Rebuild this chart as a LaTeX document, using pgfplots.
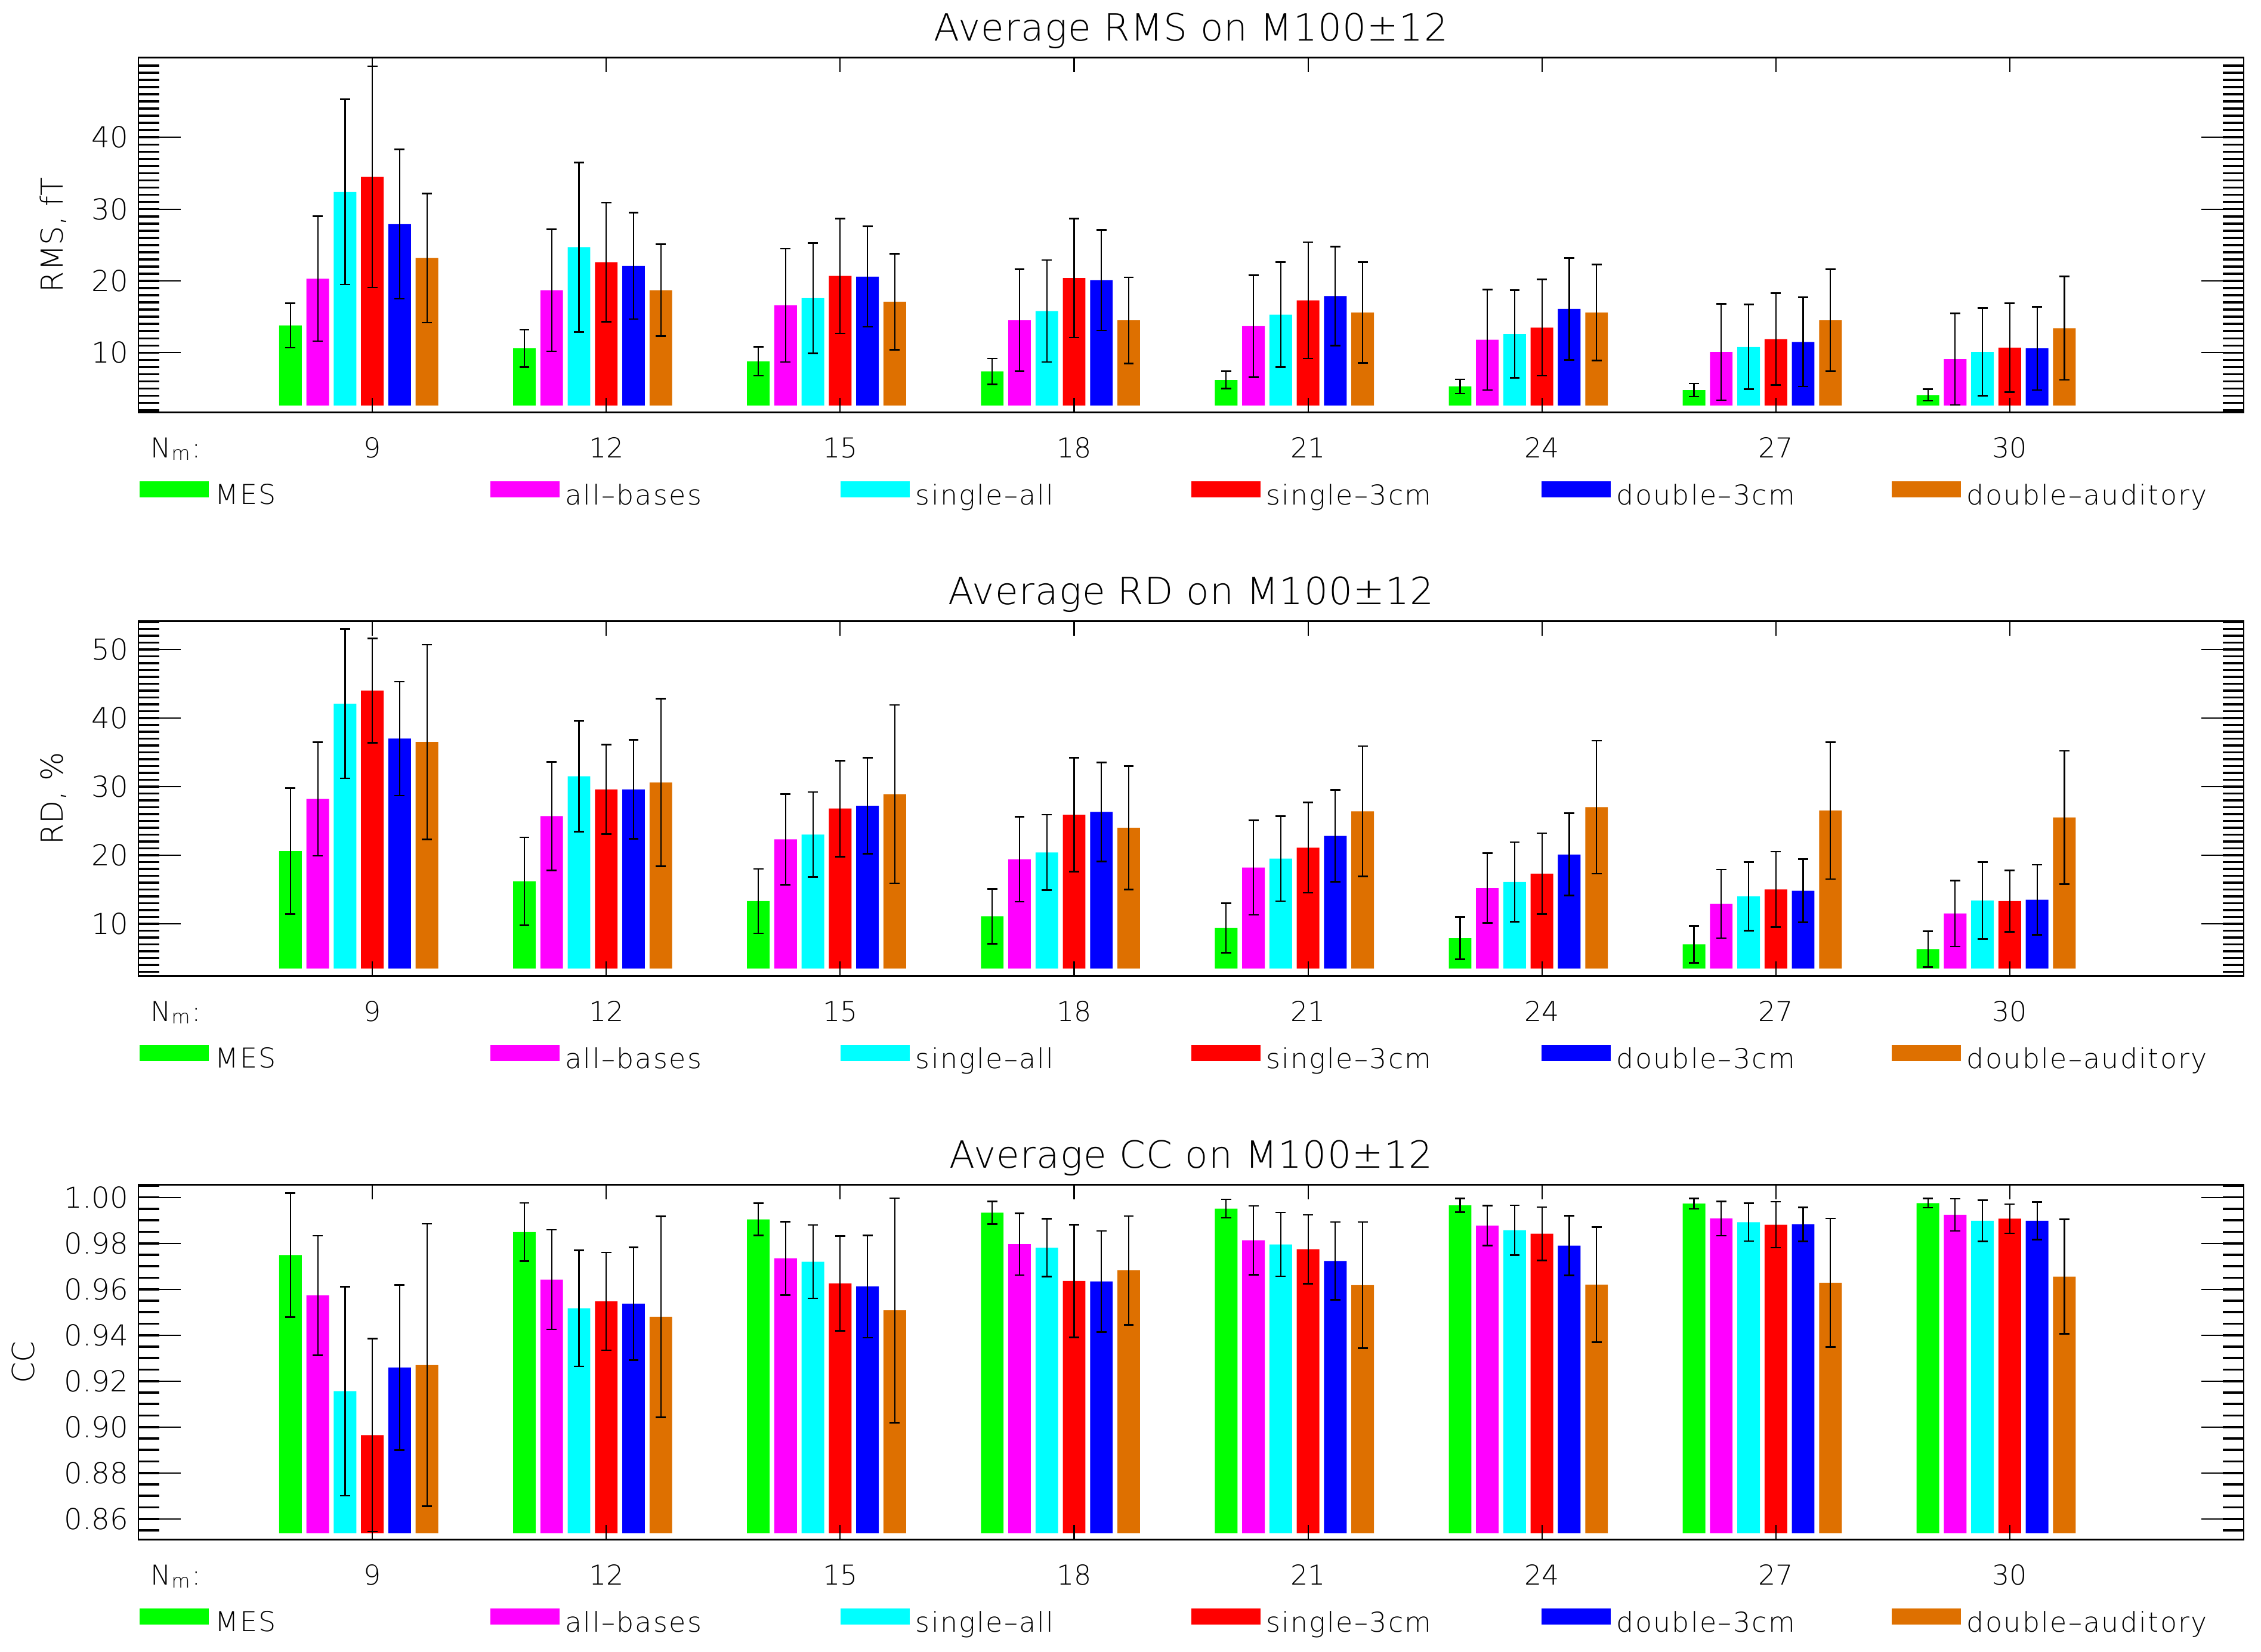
\documentclass[border=0pt]{standalone}
\usepackage{fontspec}
\IfFontExistsTF{DejaVu Sans ExtraLight}{%
  \setmainfont{DejaVu Sans ExtraLight}%
  \newfontfamily\wfont{DejaVu Sans ExtraLight}[LetterSpace=5]%
  \newfontfamily\tfont{DejaVu Sans ExtraLight}[LetterSpace=2]}{%
  \setmainfont{DejaVu Sans}%
  \newfontfamily\wfont{DejaVu Sans}[LetterSpace=5]%
  \newfontfamily\tfont{DejaVu Sans}[LetterSpace=2]}
\usepackage{pgfplots}
\usepackage{pgfplotstable}
\pgfplotsset{compat=1.18}

\definecolor{cMES}{RGB}{0,255,0}
\definecolor{cAB}{RGB}{255,0,255}
\definecolor{cSA}{RGB}{0,255,255}
\definecolor{cSt}{RGB}{255,0,0}
\definecolor{cDt}{RGB}{0,0,255}
\definecolor{cDA}{RGB}{222,112,0}

\pgfplotstableread{
x  mes mese ab  abe sa   sae  st   ste  dt   dte  da   dae
9  13.8 3.1 20.3 8.7 32.4 12.9 34.5 15.4 27.9 10.4 23.2 9.0
12 10.6 2.6 18.7 8.5 24.7 11.8 22.6 8.3  22.1 7.4  18.7 6.4
15 8.8  2.0 16.6 7.9 17.6 7.7  20.7 8.0  20.6 7.0  17.1 6.7
18 7.4  1.8 14.5 7.1 15.8 7.1  20.4 8.3  20.1 7.0  14.5 6.0
21 6.2  1.2 13.7 7.1 15.3 7.3  17.3 8.1  17.9 6.9  15.6 7.0
24 5.3  1.0 11.8 7.0 12.6 6.1  13.5 6.7  16.1 7.1  15.6 6.7
27 4.8  0.9 10.1 6.7 10.8 5.9  11.9 6.4  11.5 6.2  14.5 7.1
30 4.1  0.8 9.1  6.4 10.1 6.1  10.7 6.2  10.6 5.8  13.4 7.2
}\rmsdata

\pgfplotstableread{
x  mes mese ab  abe sa   sae  st   ste  dt   dte  da   dae
9  20.6 9.2 28.2 8.3 42.1 10.9 44.0 7.6  37.0 8.3  36.5 14.2
12 16.2 6.4 25.7 7.9 31.5 8.1  29.6 6.5  29.6 7.2  30.6 12.2
15 13.3 4.7 22.3 6.6 23.0 6.2  26.8 7.0  27.2 7.0  28.9 13.0
18 11.1 4.0 19.4 6.2 20.4 5.5  25.9 8.3  26.3 7.2  24.0 9.0
21 9.4  3.6 18.2 6.9 19.5 6.2  21.1 6.6  22.8 6.7  26.4 9.5
24 7.9  3.1 15.2 5.1 16.1 5.8  17.3 5.9  20.1 6.0  27.0 9.7
27 7.0  2.7 12.9 5.0 14.0 5.0  15.0 5.5  14.8 4.6  26.5 10.0
30 6.3  2.6 11.5 4.8 13.4 5.6  13.3 4.5  13.5 5.1  25.5 9.7
}\rddata

\pgfplotstableread{
x  mes    mese   ab     abe    sa     sae    st     ste    dt     dte    da     dae
9  0.9749 0.0270 0.9573 0.0260 0.9156 0.0455 0.8965 0.0420 0.9259 0.0360 0.9270 0.0615
12 0.9849 0.0127 0.9642 0.0217 0.9517 0.0253 0.9547 0.0213 0.9537 0.0245 0.9480 0.0437
15 0.9904 0.0070 0.9734 0.0160 0.9720 0.0160 0.9625 0.0207 0.9612 0.0223 0.9508 0.0489
18 0.9933 0.0050 0.9796 0.0134 0.9781 0.0126 0.9636 0.0245 0.9634 0.0220 0.9682 0.0237
21 0.9951 0.0040 0.9813 0.0150 0.9795 0.0139 0.9774 0.0150 0.9723 0.0170 0.9618 0.0275
24 0.9965 0.0030 0.9877 0.0087 0.9857 0.0108 0.9842 0.0116 0.9790 0.0130 0.9620 0.0250
27 0.9973 0.0023 0.9908 0.0075 0.9892 0.0082 0.9881 0.0100 0.9883 0.0074 0.9628 0.0280
30 0.9975 0.0020 0.9924 0.0070 0.9898 0.0090 0.9907 0.0064 0.9898 0.0082 0.9655 0.0250
}\ccdata

\pgfplotsset{
  bars/.style={draw=none, fill=#1,
    legend image code/.code={\fill[#1] (0pt,-0.3pt) rectangle (24pt,5.3pt);},
    error bars/y dir=both, error bars/y explicit,
    error bars/error bar style={black, line width=0.45pt},
    error bars/error mark options={rotate=90, black, line width=0.55pt, mark size=1.75pt}},
  panelA/.style={
    width=730pt, height=123pt, scale only axis,
    xmin=6, xmax=33,
    ybar, bar width=7.84pt,
    axis on top, clip=true,
    xtick={9,12,15,18,21,24,27,30},
    ytick=\empty,
    tick align=inside,
    xtick pos=both, xticklabel pos=bottom,
    major tick length=5pt,
    major tick style={black, line width=0.45pt},
    axis line style={black, line width=0.6pt},
    xticklabel style={font=\fontsize{9.5}{11}\selectfont, yshift=-5.2pt},
    extra x ticks={6.48},
    extra x tick labels={N\textsubscript{m}:},
    extra x tick style={major tick style={draw=none}},
    /pgf/number format/assume math mode=true,
    title style={font=\tfont\fontsize{13}{15}\selectfont, at={(axis description cs:0.5,1)}, anchor=base, yshift=-0.2pt},
    legend columns=6, legend cell align=left,
    legend style={at={(0,0)}, anchor=north west, xshift=0.5pt, yshift=-23.8pt,
      draw=none, fill=none, inner sep=0pt, outer sep=0pt,
      font=\wfont\fontsize{9.5}{11}\selectfont, column sep=0pt, nodes={inner sep=1pt},
      /tikz/every odd column/.append style={column sep=1pt},
      /tikz/every even column/.append style={column sep=4.5pt}},
  },
  panelB/.style={
    width=730pt, height=123pt, scale only axis,
    xmin=6, xmax=33,
    xtick=\empty,
    ytick pos=both, yticklabel pos=left,
    tick align=inside,
    major tick length=14.7pt, minor tick length=7.3pt,
    major tick style={black, line width=0.4pt},
    minor tick style={black, line width=0.75pt},
    axis line style={black, line width=0.6pt},
    yticklabel style={font=\fontsize{10}{12}\selectfont},
    ylabel style={font=\fontsize{10.5}{12}\selectfont, anchor=center},
    /pgf/number format/assume math mode=true,
  },
}

\newcommand{\sixbars}[1]{%
  \addplot[bars=cMES, bar shift=-28.39pt] table[x=x, y=mes, y error=mese] {#1};
  \addlegendentry{\makebox[90pt][l]{MES}}
  \addplot[bars=cAB, bar shift=-18.93pt] table[x=x, y=ab, y error=abe] {#1};
  \addlegendentry{\makebox[90pt][l]{all–bases}}
  \addplot[bars=cSA, bar shift=-9.46pt] table[x=x, y=sa, y error=sae] {#1};
  \addlegendentry{\makebox[90pt][l]{single–all}}
  \addplot[bars=cSt, bar shift=0pt] table[x=x, y=st, y error=ste] {#1};
  \addlegendentry{\makebox[90pt][l]{single–3cm}}
  \addplot[bars=cDt, bar shift=9.46pt] table[x=x, y=dt, y error=dte] {#1};
  \addlegendentry{\makebox[90pt][l]{double–3cm}}
  \addplot[bars=cDA, bar shift=18.93pt] table[x=x, y=da, y error=dae] {#1};
  \addlegendentry{\makebox[90pt][l]{double–auditory}}
}

\begin{document}
\begin{tikzpicture}
\useasboundingbox (-48pt,20pt) rectangle (736pt,-553pt);

% ---------- RMS ----------
\begin{axis}[panelA, at={(0pt,0pt)}, anchor=north west, ymin=1.7, ymax=51.1,
  title={Average RMS on M100±12}]
\sixbars{\rmsdata}
\fill[white] (rel axis cs:0,0) rectangle (axis cs:33,2.6);
\end{axis}
\begin{axis}[panelB, at={(0pt,0pt)}, anchor=north west, ymin=1.7, ymax=51.1,
  ytick={10,20,30,40}, minor ytick={2,...,50},
  ylabel={RMS, fT}, ylabel style={at={(axis description cs:-0.0404,0.5)}}]
\end{axis}

% ---------- RD ----------
\begin{axis}[panelA, at={(0pt,-195.5pt)}, anchor=north west, ymin=2.39, ymax=54.1,
  title={Average RD on M100±12}]
\sixbars{\rddata}
\fill[white] (rel axis cs:0,0) rectangle (axis cs:33,3.45);
\end{axis}
\begin{axis}[panelB, at={(0pt,-195.5pt)}, anchor=north west, ymin=2.39, ymax=54.1,
  ytick={10,20,30,40,50}, minor ytick={3,...,54},
  ylabel={RD, \%}, ylabel style={at={(axis description cs:-0.0404,0.5)}}]
\end{axis}

% ---------- CC ----------
\begin{axis}[panelA, at={(0pt,-391pt)}, anchor=north west, ymin=0.851, ymax=1.0054,
  title={Average CC on M100±12}]
\sixbars{\ccdata}
\fill[white] (rel axis cs:0,0) rectangle (axis cs:33,0.8536);
\end{axis}
\begin{axis}[panelB, at={(0pt,-391pt)}, anchor=north west, ymin=0.851, ymax=1.0054,
  ytick={0.86,0.88,0.90,0.92,0.94,0.96,0.98,1.00},
  minor ytick={0.855,0.86,0.865,0.87,0.875,0.88,0.885,0.89,0.895,0.90,0.905,0.91,0.915,0.92,0.925,0.93,0.935,0.94,0.945,0.95,0.955,0.96,0.965,0.97,0.975,0.98,0.985,0.99,0.995,1.00,1.005},
  yticklabel style={/pgf/number format/.cd, fixed, fixed zerofill, precision=2},
  ylabel={CC}, ylabel style={at={(axis description cs:-0.0548,0.5)}}]
\end{axis}
\end{tikzpicture}
\end{document}
